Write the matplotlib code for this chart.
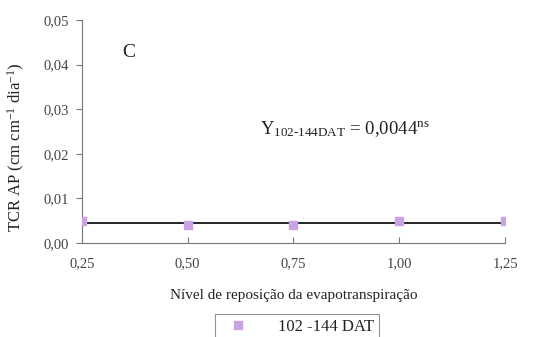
import matplotlib.pyplot as plt
from matplotlib.lines import Line2D

plt.rcParams['font.family'] = 'Liberation Serif'
plt.rcParams['mathtext.fontset'] = 'custom'
plt.rcParams['mathtext.rm'] = 'Liberation Serif'
plt.rcParams['mathtext.it'] = 'Liberation Serif:italic'

# TCR AP by ET replacement level, 102-144 DAT
niveis = [0.25, 0.50, 0.75, 1.00, 1.25]
tcr = [0.0050, 0.0041, 0.0041, 0.0049, 0.0049]
media = 0.0044
xticks = [0.25, 0.50, 0.75, 1.00, 1.25]
yticks = [0.00, 0.01, 0.02, 0.03, 0.04, 0.05]

fig = plt.figure(figsize=(5.42, 3.37), dpi=100)
ax = fig.add_axes([0.151, 0.279, 0.781, 0.662])

ax.plot(niveis, tcr, 's', color='#c9a3e3', markersize=6, zorder=3)
ax.plot([niveis[0], niveis[-1]], [media, media], color='black', lw=1.2, zorder=2)

ax.set_xlim(0.25, 1.25)
ax.set_ylim(0, 0.05)
ax.set_xticks(xticks)
ax.set_xticklabels([f'{v:.2f}'.replace('.', ',') for v in xticks])
ax.set_yticks(yticks)
ax.set_yticklabels([f'{v:.2f}'.replace('.', ',') for v in yticks])
for s in ['top', 'right']:
    ax.spines[s].set_visible(False)
for s in ['left', 'bottom']:
    ax.spines[s].set_color('#777777')
ax.tick_params(colors='#777777', labelcolor='#444444', labelsize=10.5, length=4, width=0.8)
ax.tick_params(axis='x', direction='in', pad=10)
ax.tick_params(axis='y', pad=5)

ax.set_xlabel('Nível de reposição da evapotranspiração', fontsize=11, color='#222222', labelpad=14)
ax.set_ylabel('TCR AP (cm cm$^{\\mathregular{-1}}$ dia$^{\\mathregular{-1}}$)', fontsize=12,
              color='#222222')
ax.yaxis.set_label_coords(-0.13, 0.43)

ax.text(0.345, 0.0428, 'C', fontsize=14, color='#222222', va='center')
ax.text(0.672, 0.0255, 'Y$_{\\mathregular{102\\text{-}144DAT}}$ = 0,0044$^{\\mathregular{ns}}$',
        fontsize=13.5, color='#222222', va='center')

handle = Line2D([], [], marker='s', ls='none', color='#c9a3e3', markersize=6)
leg = fig.legend([handle], ['102 -144 DAT'], loc='upper center',
                 bbox_to_anchor=(297 / 542, 1 - 314 / 337), fontsize=12,
                 frameon=True, fancybox=False, borderpad=0.3,
                 handlelength=2.2, handletextpad=1.3, borderaxespad=0)
leg.get_frame().set_edgecolor('#777777')
leg.get_frame().set_linewidth(0.8)
for t in leg.get_texts():
    t.set_color('#222222')

fig.savefig('out.png', dpi=100)
